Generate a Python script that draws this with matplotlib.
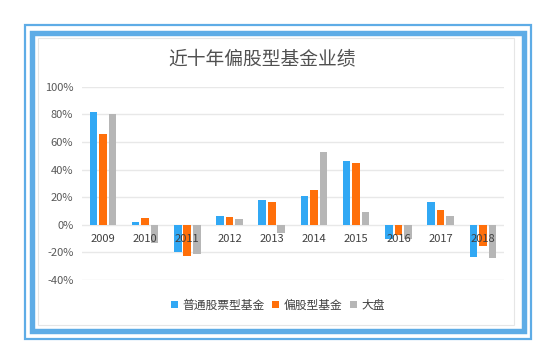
import matplotlib
matplotlib.use("Agg")
import matplotlib.pyplot as plt
import matplotlib.patches as mpatches
import numpy as np

plt.rcParams['font.family'] = ['Noto Sans CJK SC', 'DejaVu Sans']

years = ['2009', '2010', '2011', '2012', '2013', '2014', '2015', '2016', '2017', '2018']
stock_fund = [82, 1.7, -19.8, 6.2, 17.8, 21.1, 46.4, -10.1, 16.8, -23.4]
mixed_fund = [65.4, 4.8, -22.6, 5.5, 16.3, 25.0, 45.0, -7.7, 11.0, -15.4]
market = [80, -13.5, -21.2, 4.1, -6.3, 52.9, 9.6, -10.1, 6.7, -24.1]
series_names = ['普通股票型基金', '偏股型基金', '大盘']
colors = ['#31A8F4', '#FF6F0A', '#B6B6B6']
yticks = [-40, -20, 0, 20, 40, 60, 80, 100]

W, H = 557, 364
fig = plt.figure(figsize=(W / 100, H / 100), dpi=100)


def frame(x0, y0, x1, y1, lw, color):
    # rectangle given in pixels from the top-left corner
    r = mpatches.Rectangle((x0 / W, 1 - y1 / H), (x1 - x0) / W, (y1 - y0) / H,
                           transform=fig.transFigure, fill=False, lw=lw,
                           edgecolor=color, zorder=0)
    fig.patches.append(r)


frame(24.8, 24.8, 531.3, 338.7, 1.6, '#5EACE6')
frame(32.3, 32.5, 524.2, 331.3, 3.9, '#5EACE6')
frame(38, 37.5, 514, 324.5, 0.8, '#E6E6E6')

ax = fig.add_axes([81.7 / W, 1 - 280 / H, (504 - 81.7) / W, (280 - 86.7) / H])
x = np.arange(len(years))
off = 0.225
w = 0.18
for i, (vals, name) in enumerate(zip([stock_fund, mixed_fund, market], series_names)):
    ax.bar(x + (i - 1) * off, vals, w, color=colors[i], label=name, zorder=3)

ax.set_xlim(-0.5, len(years) - 0.5)
ax.set_ylim(-40, 100)
ax.set_yticks(yticks)
ax.set_yticklabels([f'{v}%' for v in yticks], fontsize=8, color='#595959')
ax.set_xticks([])
for s in ax.spines.values():
    s.set_visible(False)
ax.tick_params(axis='both', length=0)
ax.tick_params(axis='y', pad=6)
ax.grid(axis='y', color='#E8E8E8', lw=1, zorder=0)
ax.set_axisbelow(True)

# year labels sit just under the zero line, on top of the bars
for xi, yr in zip(x, years):
    ax.annotate(yr, (xi, 0), xytext=(0, -10.5), textcoords='offset points',
                ha='center', va='center', fontsize=8, color='#404040', zorder=5)

fig.text(262 / W, 1 - 60 / H, '近十年偏股型基金业绩', ha='center', va='center',
         fontsize=13.5, color='#505050')

leg = fig.legend(loc='center', bbox_to_anchor=(278 / W, 1 - 305 / H), ncol=3,
                 frameon=False, fontsize=8.5, handlelength=0.6, handleheight=0.6,
                 handletextpad=0.4, columnspacing=0.6)
for t in leg.get_texts():
    t.set_color('#404040')

fig.savefig('out.png', dpi=100)
